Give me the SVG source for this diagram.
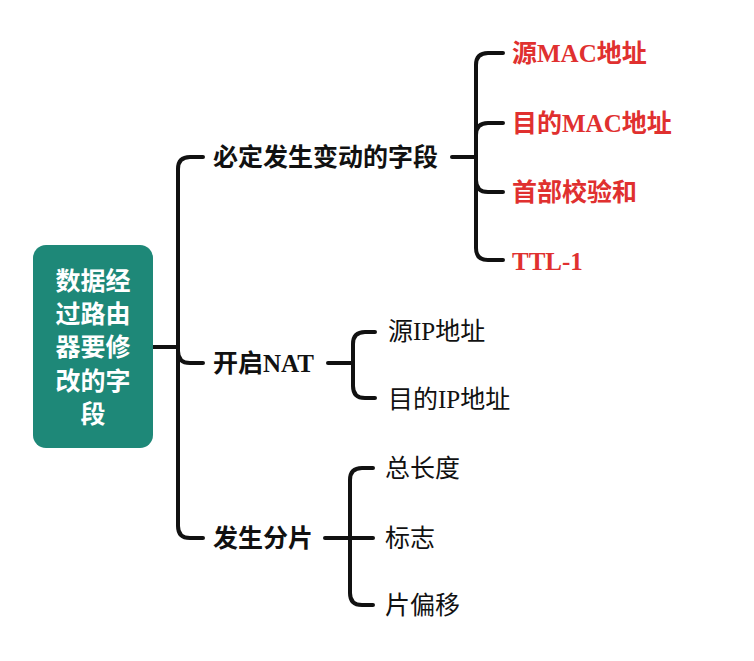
<svg xmlns="http://www.w3.org/2000/svg" width="754" height="661" viewBox="0 0 754 661">
<style>
text{font-family:"Liberation Serif","Noto Sans CJK SC",serif;font-size:25px;dominant-baseline:central}
.b{font-weight:bold;fill:#111}
.n{fill:#111}
.r{font-weight:bold;fill:#e0302f}
.w{font-weight:bold;fill:#fff;text-anchor:middle}
.c{fill:none;stroke:#111;stroke-width:4;stroke-linecap:round;stroke-linejoin:round}
</style>
<rect width="754" height="661" fill="#fff"/>
<g id="connectors">
<path class="c" d="M153 347 H178"/>
<path class="c" d="M178 347 V169 Q178 157 190 157 H203"/>
<path class="c" d="M178 347 V351 Q178 363 190 363 H203"/>
<path class="c" d="M178 347 V526 Q178 538 190 538 H203"/>
<path class="c" d="M452 157 H476"/>
<path class="c" d="M476 157 V65 Q476 53 488 53 H503"/>
<path class="c" d="M476 157 V135 Q476 123 488 123 H503"/>
<path class="c" d="M476 157 V180 Q476 192 488 192 H503"/>
<path class="c" d="M476 157 V248 Q476 260 488 260 H503"/>
<path class="c" d="M328 363 H353"/>
<path class="c" d="M353 363 V344 Q353 332 365 332 H375"/>
<path class="c" d="M353 363 V386 Q353 398 365 398 H375"/>
<path class="c" d="M325 538 H373"/>
<path class="c" d="M350 538 V480 Q350 468 362 468 H373"/>
<path class="c" d="M350 538 V593 Q350 605 362 605 H373"/>
</g>
<g id="root">
<rect x="33" y="245" width="120" height="203" rx="13" fill="#1e8878"/>
<text class="w" x="93" y="281">数据经</text>
<text class="w" x="93" y="314">过路由</text>
<text class="w" x="93" y="347">器要修</text>
<text class="w" x="93" y="381">改的字</text>
<text class="w" x="93" y="414">段</text>
</g>
<g id="n1"><text class="b" x="213" y="157">必定发生变动的字段</text></g>
<g id="n1a"><text class="r" x="512" y="53">源MAC地址</text></g>
<g id="n1b"><text class="r" x="512" y="123">目的MAC地址</text></g>
<g id="n1c"><text class="r" x="512" y="192">首部校验和</text></g>
<g id="n1d"><text class="r" x="512" y="261">TTL-1</text></g>
<g id="n2"><text class="b" x="213" y="363">开启NAT</text></g>
<g id="n2a"><text class="n" x="388" y="331">源IP地址</text></g>
<g id="n2b"><text class="n" x="388" y="399">目的IP地址</text></g>
<g id="n3"><text class="b" x="213" y="538">发生分片</text></g>
<g id="n3a"><text class="n" x="385" y="468">总长度</text></g>
<g id="n3b"><text class="n" x="385" y="538">标志</text></g>
<g id="n3c"><text class="n" x="385" y="605">片偏移</text></g>
</svg>
